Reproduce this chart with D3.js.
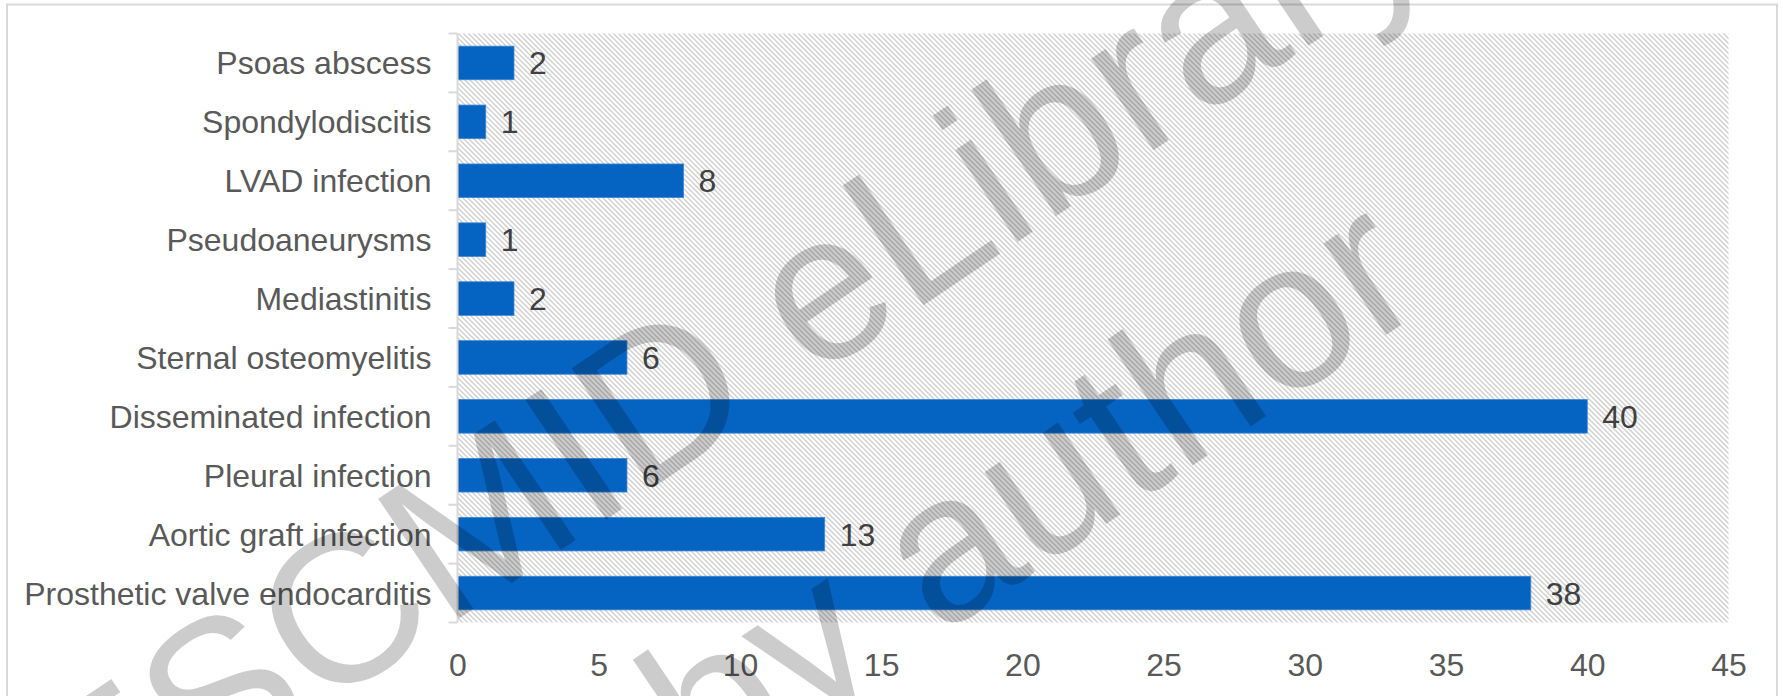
<!DOCTYPE html>
<html>
<head>
<meta charset="utf-8">
<script src="https://cdn.jsdelivr.net/npm/d3@7"></script>
<style>
  html, body { margin: 0; padding: 0; background: #ffffff; }
  svg { display: block; }
  text { font-family: "Liberation Sans", Arial, sans-serif; }
</style>
</head>
<body>
<svg id="chart" width="1781" height="696"></svg>
<script>
// ---- data ----
const categories = [
  "Psoas abscess",
  "Spondylodiscitis",
  "LVAD infection",
  "Pseudoaneurysms",
  "Mediastinitis",
  "Sternal osteomyelitis",
  "Disseminated infection",
  "Pleural infection",
  "Aortic graft infection",
  "Prosthetic valve endocarditis"
];
const values = [2, 1, 8, 1, 2, 6, 40, 6, 13, 38];
const xTicks = [0, 5, 10, 15, 20, 25, 30, 35, 40, 45];
const watermarkLines = ["ESCMID eLibrary", "by author"];

// ---- layout ----
const plot = { left: 457.5, right: 1728.5, top: 33.5, bottom: 622.5 };
const FS = 32;

const svg = d3.select("#chart");

// outer chart border
svg.append("rect")
  .attr("x", 7).attr("y", 4.5)
  .attr("width", 1770).attr("height", 730)
  .attr("fill", "#ffffff")
  .attr("stroke", "#d9d9d9").attr("stroke-width", 2);

// hatch pattern for plot area
const defs = svg.append("defs");
const pat = defs.append("pattern")
  .attr("id", "hatch")
  .attr("patternUnits", "userSpaceOnUse")
  .attr("width", 5).attr("height", 5);
pat.append("rect").attr("width", 5).attr("height", 5).attr("fill", "#ffffff");
pat.append("path")
  .attr("d", "M-1,-1 L6,6 M-1,4 L1,6 M4,-1 L6,1")
  .attr("stroke", "#d0d0d0").attr("stroke-width", 1.4);

const x = d3.scaleLinear().domain([0, 45]).range([plot.left, plot.right]);
const y = d3.scaleBand().domain(categories)
  .range([plot.top, plot.bottom])
  .paddingInner(0.43).paddingOuter(0.215);

svg.append("rect")
  .attr("x", plot.left).attr("y", plot.top)
  .attr("width", plot.right - plot.left)
  .attr("height", plot.bottom - plot.top)
  .attr("fill", "url(#hatch)");

// bars
svg.append("g").selectAll("rect")
  .data(categories)
  .join("rect")
  .attr("x", x(0))
  .attr("y", d => y(d))
  .attr("width", (d, i) => x(values[i]) - x(0))
  .attr("height", y.bandwidth())
  .attr("fill", "#0563c1")
  .attr("stroke", "#3d86d4").attr("stroke-width", 0.8);

// data labels
svg.append("g").selectAll("text")
  .data(categories)
  .join("text")
  .attr("x", (d, i) => x(values[i]) + 15)
  .attr("y", d => y(d) + y.bandwidth() / 2)
  .attr("dy", "0.36em")
  .attr("font-size", FS)
  .attr("fill", "#404040")
  .text((d, i) => values[i]);

// y axis (category) with ticks between categories
const boundaries = d3.range(categories.length + 1).map(i => plot.top + i * y.step());
const yAxisG = svg.append("g");
yAxisG.append("line")
  .attr("x1", plot.left).attr("x2", plot.left)
  .attr("y1", plot.top).attr("y2", plot.bottom)
  .attr("stroke", "#d9d9d9").attr("stroke-width", 2);
yAxisG.selectAll("line.tick")
  .data(boundaries)
  .join("line")
  .attr("class", "tick")
  .attr("x1", plot.left - 9).attr("x2", plot.left)
  .attr("y1", d => d).attr("y2", d => d)
  .attr("stroke", "#d9d9d9").attr("stroke-width", 2);
yAxisG.selectAll("text")
  .data(categories)
  .join("text")
  .attr("x", plot.left - 26)
  .attr("y", d => y(d) + y.bandwidth() / 2)
  .attr("dy", "0.36em")
  .attr("text-anchor", "end")
  .attr("font-size", FS)
  .attr("fill", "#595959")
  .text(d => d);

// x axis tick labels
const xAxis = d3.axisBottom(x).tickValues(xTicks).tickSize(0).tickPadding(0);
const xg = svg.append("g")
  .attr("transform", `translate(0, ${plot.bottom})`)
  .call(xAxis);
xg.select(".domain").remove();
xg.selectAll("text")
  .attr("font-size", FS)
  .attr("font-family", "'Liberation Sans', Arial, sans-serif")
  .attr("fill", "#595959")
  .attr("dy", null)
  .attr("y", 53);

// watermark
const wm = svg.append("g").attr("pointer-events", "none");
const wmPos = [[723, 352], [1028, 488]];
wm.selectAll("text")
  .data(watermarkLines)
  .join("text")
  .attr("transform", (d, i) => `translate(${wmPos[i][0]},${wmPos[i][1]}) rotate(-34)`)
  .attr("text-anchor", "middle")
  .attr("dy", "0.35em")
  .attr("font-size", 210)
  .attr("fill", "#000000")
  .attr("fill-opacity", 0.2)
  .text(d => d);
</script>
</body>
</html>
